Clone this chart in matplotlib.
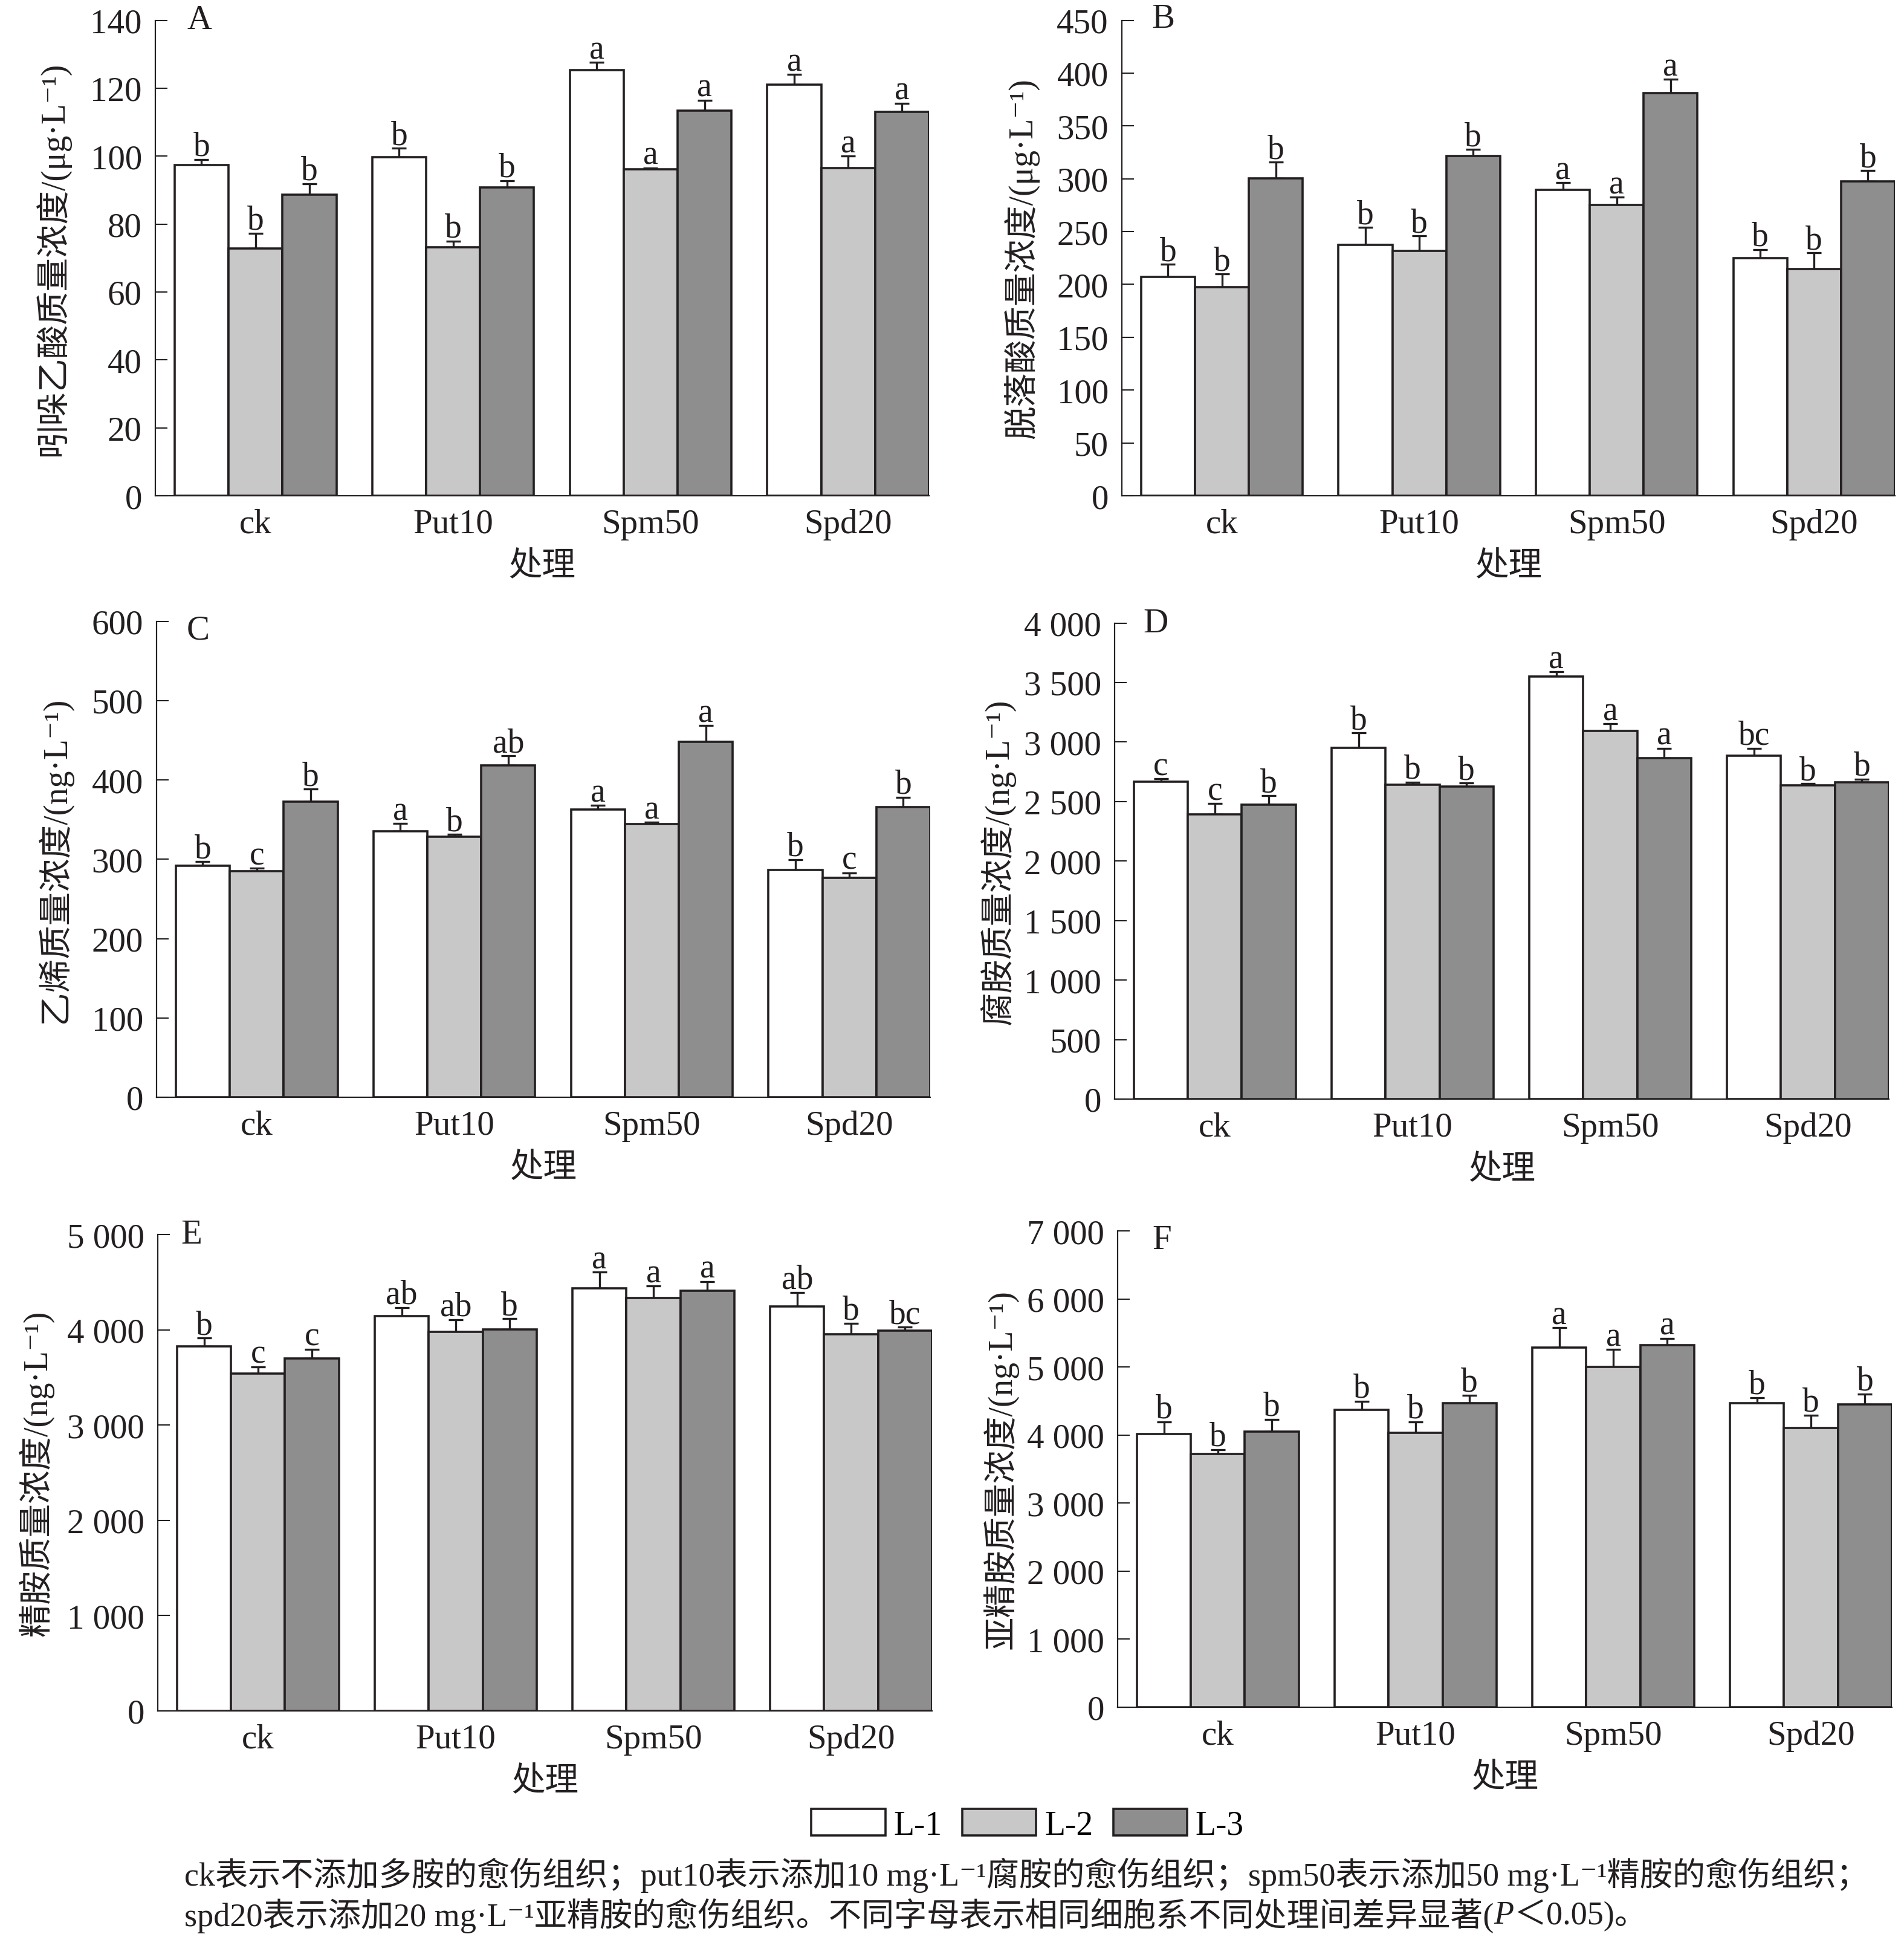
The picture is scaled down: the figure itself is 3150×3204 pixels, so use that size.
import matplotlib
matplotlib.use('Agg')
import matplotlib.pyplot as plt
import numpy as np
from matplotlib.patches import Patch

plt.rcParams['font.family'] = ['Liberation Serif', 'DejaVu Serif', 'Noto Sans CJK SC']
plt.rcParams['axes.unicode_minus'] = False

treatments = ['ck', 'Put10', 'Spm50', 'Spd20']
cell_lines = ['L-1', 'L-2', 'L-3']
bar_colors = ['#ffffff', '#c8c8c8', '#8f8e8f']
edge = '#231f20'

# Panel A: IAA (ug/L) -- rows: L-1, L-2, L-3 ; columns: treatments
iaa_mean = [[97.3, 99.6, 125.3, 121.1],
            [72.8, 73.1, 96.2, 96.5],
            [88.7, 90.8, 113.4, 113.1]]
iaa_err = [[1.7, 2.7, 2.3, 2.9],
           [4.5, 1.9, 0.3, 3.5],
           [3.2, 2.0, 3.1, 2.5]]
iaa_sig = [['b', 'b', 'a', 'a'],
           ['b', 'b', 'a', 'a'],
           ['b', 'b', 'a', 'a']]

# Panel B: ABA (ug/L)
aba_mean = [[207.0, 237.5, 289.5, 224.6],
            [197.6, 232.0, 275.3, 214.6],
            [300.6, 321.4, 381.0, 297.5]]
aba_err = [[12.0, 16.5, 6.9, 8.4],
           [12.1, 14.0, 7.2, 15.3],
           [15.2, 6.2, 13.2, 10.3]]
aba_sig = [['b', 'b', 'a', 'b'],
           ['b', 'b', 'a', 'b'],
           ['b', 'b', 'a', 'b']]

# Panel C: ethylene (ng/L)
eth_mean = [[291.7, 335.5, 362.8, 286.6],
            [284.8, 328.2, 344.3, 276.9],
            [372.9, 418.6, 447.7, 365.5]]
eth_err = [[5.1, 9.3, 5.0, 12.9],
           [3.7, 3.2, 2.3, 6.0],
           [15.7, 11.6, 20.8, 12.5]]
eth_sig = [['b', 'a', 'a', 'b'],
           ['c', 'b', 'a', 'c'],
           ['b', 'ab', 'a', 'b']]

# Panel D: putrescine (ng/L)
put_mean = [[2668, 2951, 3548, 2886],
            [2394, 2643, 3095, 2637],
            [2474, 2628, 2865, 2662]]
put_err = [[24, 126, 43, 62],
           [89, 19, 59, 12],
           [74, 27, 83, 27]]
put_sig = [['c', 'b', 'a', 'bc'],
           ['c', 'b', 'a', 'b'],
           ['b', 'b', 'a', 'b']]

# Panel E: spermine (ng/L)
spm_mean = [[3823, 4146, 4435, 4242],
            [3542, 3981, 4331, 3954],
            [3700, 4004, 4408, 3992]]
spm_err = [[89, 89, 169, 150],
           [70, 127, 127, 115],
           [96, 111, 100, 35]]
spm_sig = [['b', 'ab', 'a', 'ab'],
           ['c', 'ab', 'a', 'b'],
           ['c', 'b', 'a', 'bc']]

# Panel F: spermidine (ng/L)
spd_mean = [[4012, 4367, 5282, 4464],
            [3721, 4033, 4997, 4108],
            [4055, 4464, 5325, 4448]]
spd_err = [[183, 129, 296, 86],
           [64, 162, 258, 184],
           [177, 124, 97, 156]]
spd_sig = [['b', 'b', 'a', 'b'],
           ['b', 'b', 'a', 'b'],
           ['b', 'b', 'a', 'b']]

ylabels = ['吲哚乙酸质量浓度/(μg·L⁻¹)', '脱落酸质量浓度/(μg·L⁻¹)',
           '乙烯质量浓度/(ng·L⁻¹)', '腐胺质量浓度/(ng·L⁻¹)',
           '精胺质量浓度/(ng·L⁻¹)', '亚精胺质量浓度/(ng·L⁻¹)']
panel_letters = ['A', 'B', 'C', 'D', 'E', 'F']
ymaxs = [140, 450, 600, 4000, 5000, 7000]
ysteps = [20, 50, 100, 500, 1000, 1000]
xlabel = '处理'

panels = [(iaa_mean, iaa_err, iaa_sig), (aba_mean, aba_err, aba_sig),
          (eth_mean, eth_err, eth_sig), (put_mean, put_err, put_sig),
          (spm_mean, spm_err, spm_sig), (spd_mean, spd_err, spd_sig)]

W, H = 3150, 3205
fig = plt.figure(figsize=(W / 100, H / 100), dpi=100)

# axes boxes in pixels: left, top, right, bottom
boxes = [(257, 34.5, 1537, 821), (1856, 34.5, 3135, 821),
         (259, 1028.5, 1539, 1816), (1844, 1031.5, 3125, 1819),
         (261, 2043, 1542, 2831), (1849, 2037, 3130, 2825)]
ylabel_dx = [171, 166, 169, 194, 201, 194]
letter_off = [(53, 0), (49, 3), (50, -15), (47, 0), (38, 0), (57, -15)]

FS = 41
LFS = 40
bw = 0.273
x = np.arange(len(treatments))

for i, (means, errs, sigs) in enumerate(panels):
    l, t, r, b = boxes[i]
    ax = fig.add_axes([l / W, 1 - b / H, (r - l) / W, (b - t) / H])
    for j in range(3):
        xp = x + (j - 1) * bw
        ax.bar(xp, means[j], bw, color=bar_colors[j], edgecolor=edge,
               linewidth=2.6, zorder=3)
        ax.errorbar(xp, means[j], yerr=[np.zeros(4), errs[j]], fmt='none',
                    ecolor=edge, elinewidth=2.4, capsize=8.5, capthick=2.4,
                    zorder=2)
        for k in range(4):
            ax.annotate(sigs[j][k], (xp[k], means[j][k] + errs[j][k]),
                        xytext=(0, 5), textcoords='offset points',
                        ha='center', va='baseline', fontsize=LFS, color=edge)
    ax.set_xlim(-0.5 * bw * 3 - 32 / 328, 3 + 1.5 * bw)
    ax.set_ylim(0, ymaxs[i])
    ax.set_yticks(np.arange(0, ymaxs[i] + 1, ysteps[i]))
    if ymaxs[i] >= 1000:
        ax.set_yticklabels([f'{v:,}'.replace(',', ' ') for v in
                            np.arange(0, ymaxs[i] + 1, ysteps[i])])
    ax.set_xticks(x)
    ax.set_xticklabels(treatments)
    ax.tick_params(axis='y', direction='in', length=14.5, width=1.5,
                   pad=16, labelsize=FS, colors=edge)
    ax.tick_params(axis='x', length=0, pad=15, labelsize=FS, colors=edge)
    for s in ['top', 'right']:
        ax.spines[s].set_visible(False)
    for s in ['left', 'bottom']:
        ax.spines[s].set_linewidth(1.6)
        ax.spines[s].set_color(edge)
    ax.set_ylabel(ylabels[i], fontsize=LFS, color=edge, va='center')
    ax.yaxis.set_label_coords(-ylabel_dx[i] / (r - l), 0.5)
    ax.set_xlabel(xlabel, fontsize=LFS, color=edge, labelpad=13)
    dx, dy = letter_off[i]
    ax.text(dx / (r - l), 1 + dy / (b - t), panel_letters[i],
            transform=ax.transAxes, ha='left', va='center', fontsize=FS,
            color=edge)

handles = [Patch(facecolor=bar_colors[j], edgecolor=edge, linewidth=2.6,
                 label=cell_lines[j]) for j in range(3)]
fig.legend(handles=handles, loc='center', bbox_to_anchor=(1700 / W, 1 - 3020 / H),
           ncol=3, frameon=False, fontsize=40, handlelength=2.2,
           handleheight=0.83, handletextpad=0.25, columnspacing=0.6,
           borderpad=0, borderaxespad=0)

CFS = 39
cap1 = 'ck表示不添加多胺的愈伤组织；put10表示添加10 mg·L⁻¹腐胺的愈伤组织；spm50表示添加50 mg·L⁻¹精胺的愈伤组织；'
cap2a = 'spd20表示添加20 mg·L⁻¹亚精胺的愈伤组织。不同字母表示相同细胞系不同处理间差异显著('
cap2b = 'P'
cap2c = '＜0.05)。'
fig.text(305 / W, 1 - 3102 / H, cap1, fontsize=CFS, ha='left', va='center', color=edge)
t2a = fig.text(305 / W, 1 - 3169 / H, cap2a, fontsize=CFS, ha='left', va='center', color=edge)
fig.canvas.draw()
rend = fig.canvas.get_renderer()
bb = t2a.get_window_extent(rend)
t2b = fig.text(bb.x1 / W, 1 - 3169 / H, cap2b, fontsize=CFS, ha='left', va='center',
               style='italic', color=edge)
bb2 = t2b.get_window_extent(rend)
fig.text(bb2.x1 / W, 1 - 3169 / H, cap2c, fontsize=CFS, ha='left', va='center', color=edge)

fig.savefig('out.png', dpi=100, facecolor='white')
